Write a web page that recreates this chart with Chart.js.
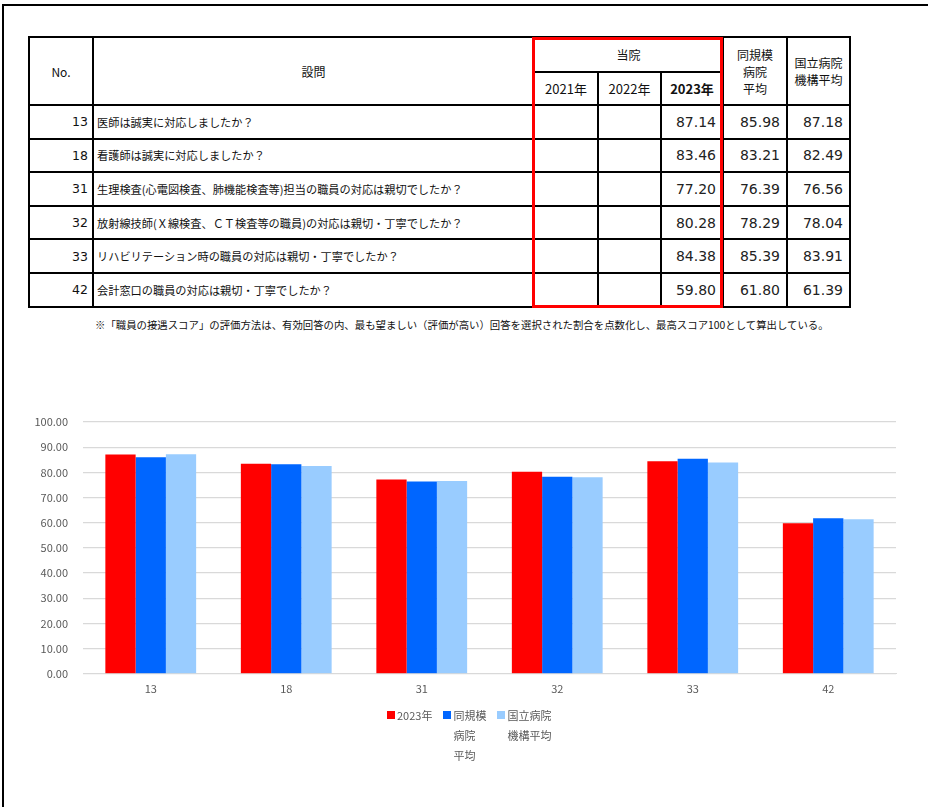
<!DOCTYPE html>
<html lang="ja">
<head>
<meta charset="utf-8">
<script src="https://cdn.jsdelivr.net/npm/chart.js@4"></script>
<style>
  html, body { margin: 0; padding: 0; background: #fff; overflow: hidden; }
  body { width: 928px; height: 807px; position: relative; font-family: "Noto Sans CJK JP", "Noto Sans", sans-serif; }
  #frame { position: absolute; left: 2px; top: 4px; width: 1000px; height: 1000px; border: 2.5px solid #000; }
  #scoreTable { position: absolute; left: 28px; top: 36px; border-collapse: collapse; table-layout: fixed; width: 821px; color: #111; }
  #scoreTable td, #scoreTable th { border: 2px solid #000; padding: 0; font-weight: normal; overflow: hidden; white-space: nowrap; }
  #scoreTable th { text-align: center; font-size: 12px; line-height: 17px; }
  #scoreTable th.yr { font-size: 13px; }
  #scoreTable th.bold { font-weight: bold; }
  #scoreTable td.no { text-align: right; padding-right: 4px; font-family: "DejaVu Sans", sans-serif; font-size: 12.5px; }
  #scoreTable td.q { text-align: left; padding-left: 3px; font-size: 11.2px; }
  #scoreTable td.v { text-align: right; padding-right: 6px; font-family: "DejaVu Sans", sans-serif; font-size: 14px; color: #222; }
  #redBox { position: absolute; left: 532px; top: 37px; width: 191px; height: 271px; border: 3px solid #ff0000; box-sizing: border-box; }
  #note { position: absolute; left: 95px; top: 317px; font-size: 10.4px; color: #111; white-space: nowrap; }
  #chartWrap { position: absolute; left: 30px; top: 400px; width: 882px; height: 308px; }
  #legend { position: absolute; left: 387px; top: 705px; display: flex; align-items: flex-start; font-size: 11px; line-height: 20px; color: #595959; }
  #legend .item { display: flex; align-items: flex-start; margin-right: 11px; }
  #legend .box { width: 8px; height: 8px; margin-top: 6px; margin-right: 2px; flex: none; }
</style>
</head>
<body>
<div id="frame"></div>
<table id="scoreTable"></table>
<div id="redBox"></div>
<div id="note">※「職員の接遇スコア」の評価方法は、有効回答の内、最も望ましい（評価が高い）回答を選択された割合を点数化し、最高スコア100として算出している。</div>
<div id="chartWrap"><canvas id="scoreChart"></canvas></div>
<div id="legend"></div>
<script>
// 設問番号と設問文
const questionNos = ['13', '18', '31', '32', '33', '42'];
const questions = [
  '医師は誠実に対応しましたか？',
  '看護師は誠実に対応しましたか？',
  '生理検査(心電図検査、肺機能検査等)担当の職員の対応は親切でしたか？',
  '放射線技師(Ｘ線検査、ＣＴ検査等の職員)の対応は親切・丁寧でしたか？',
  'リハビリテーション時の職員の対応は親切・丁寧でしたか？',
  '会計窓口の職員の対応は親切・丁寧でしたか？'
];

// スコア
const score2021 = [null, null, null, null, null, null];
const score2022 = [null, null, null, null, null, null];
const score2023 = [87.14, 83.46, 77.20, 80.28, 84.38, 59.80];
const sameScaleAvg = [85.98, 83.21, 76.39, 78.29, 85.39, 61.80];
const nationalAvg = [87.18, 82.49, 76.56, 78.04, 83.91, 61.39];

// 凡例ラベル（改行位置は元の図に合わせる）
const seriesLabels = ['2023年', ['同規模', '病院', '平均'], ['国立病院', '機構平均']];
const seriesColors = ['#ff0000', '#0066ff', '#99ccff'];

// 表を組み立てる
function buildTable() {
  const table = document.getElementById('scoreTable');
  const colWidths = [64, 441, 64, 63, 62, 64, 63];
  let html = '<colgroup>' + colWidths.map(w => `<col style="width:${w}px">`).join('') + '</colgroup>';
  html += '<tr style="height:35px">' +
    '<th rowspan="2">No.</th>' +
    '<th rowspan="2">設問</th>' +
    '<th colspan="3">当院</th>' +
    '<th rowspan="2">同規模<br>病院<br>平均</th>' +
    '<th rowspan="2">国立病院<br>機構平均</th></tr>';
  html += '<tr style="height:33px"><th class="yr">2021年</th><th class="yr">2022年</th><th class="yr bold">2023年</th></tr>';

  const fmt = v => (v === null ? '' : v.toFixed(2));
  questionNos.forEach((no, i) => {
    html += '<tr style="height:33.6px">' +
      `<td class="no">${no}</td>` +
      `<td class="q">${questions[i]}</td>` +
      `<td class="v">${fmt(score2021[i])}</td>` +
      `<td class="v">${fmt(score2022[i])}</td>` +
      `<td class="v">${fmt(score2023[i])}</td>` +
      `<td class="v">${fmt(sameScaleAvg[i])}</td>` +
      `<td class="v">${fmt(nationalAvg[i])}</td></tr>`;
  });
  table.innerHTML = html;
}

// 凡例をHTMLで描く（複数行ラベルのため）
const htmlLegend = {
  id: 'htmlLegend',
  afterUpdate(chart) {
    const container = document.getElementById('legend');
    container.innerHTML = '';
    const items = chart.options.plugins.legend.labels.generateLabels(chart);
    items.forEach(item => {
      const el = document.createElement('div');
      el.className = 'item';
      const box = document.createElement('span');
      box.className = 'box';
      box.style.background = item.fillStyle;
      const text = document.createElement('span');
      const lines = Array.isArray(item.text) ? item.text : [item.text];
      text.innerHTML = lines.join('<br>');
      el.appendChild(box);
      el.appendChild(text);
      container.appendChild(el);
    });
  }
};

function buildChart() {
  const ctx = document.getElementById('scoreChart').getContext('2d');
  const seriesData = [score2023, sameScaleAvg, nationalAvg];

  new Chart(ctx, {
    type: 'bar',
    data: {
      labels: questionNos,
      datasets: seriesData.map((d, i) => ({
        label: seriesLabels[i],
        data: d,
        backgroundColor: seriesColors[i],
        borderWidth: 0,
        categoryPercentage: 0.67,
        barPercentage: 1.0
      }))
    },
    options: {
      responsive: true,
      maintainAspectRatio: false,
      animation: false,
      layout: { padding: { top: 22, right: 16, bottom: 5, left: 0 } },
      font: { family: '"Noto Sans CJK JP", "Noto Sans", sans-serif' },
      scales: {
        x: {
          grid: { display: false, drawTicks: false },
          border: { display: true, color: '#d9d9d9', width: 1 },
          ticks: { color: '#595959', padding: 8, font: { size: 11 } }
        },
        y: {
          min: 0,
          max: 100,
          afterFit: scale => { scale.width = 53; },
          grid: { color: '#d9d9d9', lineWidth: 1.3, drawTicks: false },
          border: { display: false },
          ticks: {
            stepSize: 10,
            color: '#595959',
            padding: 15,
            font: { size: 11 },
            callback: v => v.toFixed(2)
          }
        }
      },
      plugins: {
        legend: { display: false },
        tooltip: { enabled: false }
      }
    },
    plugins: [htmlLegend]
  });
}

document.addEventListener('DOMContentLoaded', () => {
  buildTable();
  buildChart();
});
</script>
</body>
</html>
